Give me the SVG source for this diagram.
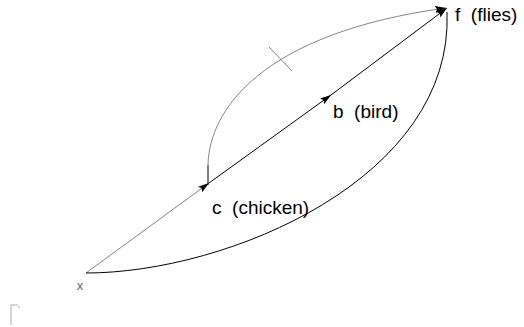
<svg xmlns="http://www.w3.org/2000/svg" width="524" height="327" viewBox="0 0 524 327">
<style>
.lbl{font-family:"Liberation Sans",Arial,sans-serif;font-size:19px;fill:#000}
.sm{font-family:"Liberation Sans",Arial,sans-serif;font-size:13px;fill:#666}
.ln{fill:none;stroke:#000;stroke-width:1}
.faint{fill:none;stroke:#777;stroke-width:0.9}
</style>
<defs>
<marker id="ah" markerUnits="userSpaceOnUse" markerWidth="12" markerHeight="8" refX="11" refY="3.5" orient="auto">
<path d="M0,0 L11,3.5 L0,7 L2,3.5 z" fill="#000"/>
</marker>
</defs>
<rect width="524" height="327" fill="#fff"/>
<g id="connectors">
<path class="faint" d="M86,273 L209,183" marker-end="url(#ah)"/>
<path class="ln" d="M209,183 L331,95" marker-end="url(#ah)"/>
<path class="ln" d="M331,95 L447,8" marker-end="url(#ah)"/>
<path class="ln" stroke-width="1.6" d="M208,185 L208,165"/>
<path class="faint" d="M208,165 C209,110 262,33 446,8" marker-end="url(#ah)"/>
<path class="ln" d="M86,273 C228,273 454,178 447,12"/>
<line class="faint" x1="269" y1="47" x2="292" y2="71"/>
</g>
<g id="node-x"><text class="sm" x="80" y="290" text-anchor="middle">x</text></g>
<g id="node-c"><text class="lbl" x="212" y="214" xml:space="preserve">c  (chicken)</text></g>
<g id="node-b"><text class="lbl" x="333" y="118" xml:space="preserve">b  (bird)</text></g>
<g id="node-f"><text class="lbl" x="455" y="21" xml:space="preserve">f  (flies)</text></g>
<g id="mark"><path d="M11,325 L11,305 L18,305 M19,306 L19,308" fill="none" stroke="#aaa" stroke-width="1"/></g>
</svg>
